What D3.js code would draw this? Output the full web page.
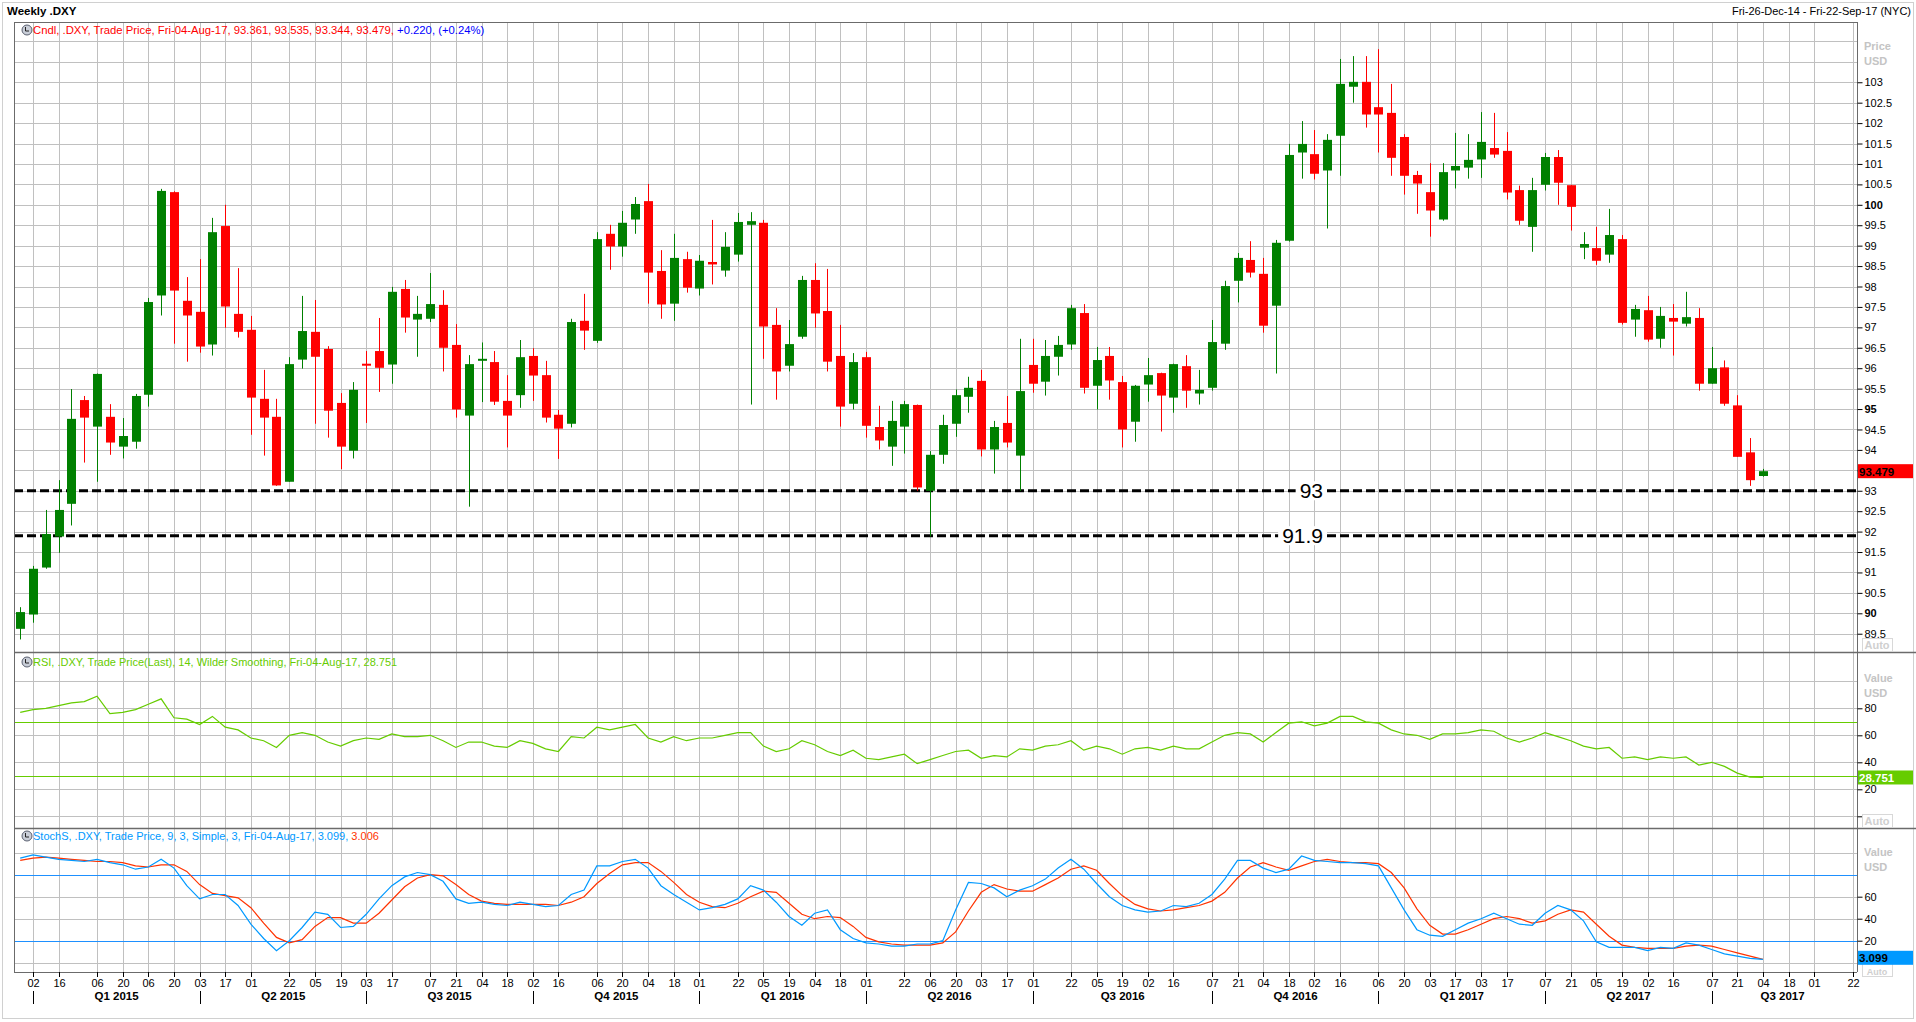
<!DOCTYPE html>
<html><head><meta charset="utf-8">
<script src="https://cdn.jsdelivr.net/npm/d3@7"></script>
<style>
body{margin:0;background:#fff;}
svg{display:block;}
text{font-family:"Liberation Sans",Arial,sans-serif;}
</style>
</head><body>
<svg id="c" width="1916" height="1022"></svg>
<script>
// ---------------- DATA ----------------
const firstWeek = "2014-12-26", lastWeek = "2017-08-04", axisEnd = "2017-09-22";
const opens = [89.62,89.97,91.12,91.88,92.68,95.22,94.57,94.81,94.08,94.20,95.35,97.78,100.31,97.65,97.38,96.58,99.48,97.33,96.94,95.25,94.81,93.22,96.21,96.89,96.47,95.15,93.98,96.11,96.42,96.09,97.94,97.19,97.21,97.55,96.57,94.84,96.19,96.15,95.20,95.34,96.30,95.83,94.86,94.64,97.16,96.67,99.29,98.98,99.64,100.09,98.38,97.58,98.67,97.95,98.60,98.39,98.78,99.51,99.56,97.06,96.06,96.77,98.16,97.40,96.30,95.13,96.27,94.56,94.08,94.57,95.10,93.00,93.88,94.64,95.30,95.69,94.01,94.66,93.86,96.08,95.67,96.28,96.58,97.35,95.57,96.30,95.66,94.69,95.60,95.88,95.28,96.05,95.38,95.52,96.60,98.14,98.65,98.31,97.53,99.12,101.28,101.24,100.84,101.69,102.89,103.01,102.39,102.25,101.66,100.73,100.31,99.64,100.84,100.91,101.11,101.39,101.32,100.36,99.46,100.49,101.17,100.48,98.95,98.94,98.78,99.16,97.19,97.42,96.72,97.23,97.09,97.23,95.62,96.02,95.09,93.94,93.361];
const highs = [90.15,91.16,92.53,93.26,95.49,95.32,95.87,95.12,94.78,95.37,97.72,100.39,100.33,98.23,98.67,99.68,100.00,98.45,97.28,95.96,95.25,96.27,97.77,97.67,96.54,95.39,95.66,96.42,97.23,97.99,98.16,97.77,98.33,97.91,97.08,96.32,96.63,96.42,95.83,96.69,96.49,96.18,94.98,97.21,97.82,99.33,99.51,99.85,100.19,100.51,98.89,99.29,98.85,98.77,99.63,99.33,99.80,99.82,99.63,97.47,97.18,98.26,98.57,98.43,97.06,96.37,96.40,95.08,95.20,95.20,95.11,93.97,94.86,95.48,95.79,95.96,94.71,95.32,96.72,96.72,96.69,96.79,97.55,97.57,96.52,96.52,95.81,95.59,96.25,95.89,96.11,96.32,95.96,97.18,98.14,98.82,99.11,98.70,99.14,101.49,102.05,101.83,101.73,103.57,103.64,103.64,103.81,102.96,101.73,100.83,101.02,101.02,101.76,101.73,102.27,102.25,101.78,100.47,100.66,101.27,101.34,100.49,99.33,99.46,99.90,99.26,97.55,97.77,97.50,97.57,97.87,97.47,96.52,96.19,95.34,94.29,93.535];
const lows = [89.36,89.77,91.09,91.48,92.15,93.69,93.22,93.88,93.79,94.03,95.06,97.29,96.60,96.16,96.38,96.31,96.99,96.75,94.37,93.86,93.12,93.22,95.99,94.64,94.30,93.53,93.79,94.66,95.42,95.62,96.87,96.28,97.13,95.92,94.79,92.61,95.17,95.10,94.06,95.03,95.20,94.67,93.78,94.55,96.45,96.62,98.41,98.73,99.29,97.58,97.21,97.16,97.85,97.78,98.05,98.24,98.61,95.11,96.23,95.23,95.92,96.72,96.99,95.92,94.57,94.99,94.30,94.01,93.61,93.91,93.00,91.88,93.66,94.32,94.91,93.84,93.42,94.06,93.00,95.40,95.33,95.82,96.45,95.38,94.99,95.23,94.06,94.20,95.18,94.45,94.91,95.03,95.11,95.45,96.45,97.61,98.22,96.87,95.87,99.10,100.64,100.62,99.42,100.71,102.50,101.89,101.28,100.71,100.25,99.78,99.22,99.61,100.40,100.64,100.66,101.15,100.13,99.51,98.85,100.35,100.00,99.37,98.67,98.53,98.58,97.07,96.77,96.65,96.50,96.31,97.02,95.45,95.62,95.08,93.83,93.12,93.344];
const closes = [90.03,91.09,91.94,92.53,94.76,94.79,95.86,94.18,94.34,95.32,97.62,100.34,97.90,97.29,96.53,99.33,97.51,96.89,95.28,94.79,93.13,96.10,96.91,96.28,94.96,94.08,95.47,96.10,96.01,97.87,97.24,97.33,97.57,96.50,94.99,96.10,96.23,95.18,94.84,96.27,95.82,94.79,94.52,97.13,96.92,99.16,98.98,99.56,100.02,98.34,97.56,98.70,97.97,98.63,98.54,98.97,99.58,99.60,97.02,95.92,96.59,98.16,97.34,96.16,95.06,96.15,94.59,94.23,94.71,95.12,93.08,93.88,94.61,95.34,95.52,94.01,94.56,94.18,95.44,95.62,96.30,96.57,97.47,95.52,96.20,95.70,94.50,95.57,95.83,95.33,96.10,95.45,95.47,96.64,98.01,98.70,98.34,97.04,99.07,101.22,101.49,100.76,101.59,102.96,103.01,102.21,102.21,101.15,100.71,100.52,99.86,100.80,100.95,101.10,101.54,101.23,100.30,99.61,100.36,101.17,100.54,99.95,99.04,98.63,99.26,97.11,97.45,96.70,97.28,97.14,97.25,95.62,96.00,95.13,93.83,93.259,93.479];
const rsi = [77,79,80,82,84,85,89,76,77,79,83,87,73,72,68,74,66,64,58,56,51,60,62,60,55,52,56,58,57,61,59,59,60,56,51,55,55,52,51,56,54,50,48,59,58,66,64,66,68,58,55,59,56,58,58,60,62,62,52,48,50,56,53,48,45,49,43,42,44,46,39,42,45,48,49,43,45,44,50,49,52,53,56,49,52,50,46,50,51,49,52,50,50,55,60,62,61,55,62,69,70,67,69,74,74,70,69,64,61,60,57,61,61,62,64,63,58,55,58,62,59,56,52,50,51,43,44,42,44,43,44,38,40,37,32,29,28.751];
const stochK = [95,98,96,94,93,92,94,91,89,85,87,94,86,70,58,62,62,52,35,22,11,20,32,46,44,32,33,44,58,70,78,82,80,74,58,54,55,53,52,55,53,51,52,62,66,88,88,92,94,86,70,62,55,48,50,53,58,70,66,55,42,34,45,48,30,22,18,17,15,15,17,17,20,48,73,72,68,60,66,70,76,86,94,85,72,60,52,48,46,47,52,51,54,62,76,93,93,86,82,85,97,93,92,91,91,90,88,68,48,30,25,24,30,36,40,45,40,35,34,45,52,48,38,19,14,14,14,11,14,13,18,16,12,8,6,4,3.099];
const stochD = [93,95,96,95,94,93,92,92,91,88,87,89,89,83,71,63,61,59,50,36,23,18,21,33,41,41,36,36,45,57,69,77,80,79,71,62,56,54,53,53,53,53,52,55,60,72,81,89,91,91,83,73,62,55,51,50,54,60,65,64,54,44,40,42,41,33,23,19,17,16,16,16,18,28,47,64,71,67,65,65,71,77,85,88,84,72,61,53,49,47,48,50,52,56,64,77,87,91,87,84,88,92,94,92,91,91,90,82,68,49,34,26,26,30,35,40,42,40,36,38,44,48,46,35,24,16,14,13,13,13,15,16,15,12,9,6,3.006];
const supportLevels = [93, 91.9];
const priceTicks = [89.5,90,90.5,91,91.5,92,92.5,93,93.5,94,94.5,95,95.5,96,96.5,97,97.5,98,98.5,99,99.5,100,100.5,101,101.5,102,102.5,103];
const priceGrid = [89.5,90,90.5,91,91.5,92,92.5,93,93.5,94,94.5,95,95.5,96,96.5,97,97.5,98,98.5,99,99.5,100,100.5,101,101.5,102,102.5,103,103.5,104];
const rsiTicks = [80,60,40,20];
const rsiGrid = [100,80,60,40,20,0];
const rsiLevels = [70,30];
const stochTicks = [60,40,20];
const stochGrid = [100,80,60,40,20,0];
const stochLevels = [80,20];
const tickDates = ["2015-01-02","2015-01-16","2015-02-06","2015-02-20","2015-03-06","2015-03-20","2015-04-03","2015-04-17","2015-05-01","2015-05-22","2015-06-05","2015-06-19","2015-07-03","2015-07-17","2015-08-07","2015-08-21","2015-09-04","2015-09-18","2015-10-02","2015-10-16","2015-11-06","2015-11-20","2015-12-04","2015-12-18","2016-01-01","2016-01-22","2016-02-05","2016-02-19","2016-03-04","2016-03-18","2016-04-01","2016-04-22","2016-05-06","2016-05-20","2016-06-03","2016-06-17","2016-07-01","2016-07-22","2016-08-05","2016-08-19","2016-09-02","2016-09-16","2016-10-07","2016-10-21","2016-11-04","2016-11-18","2016-12-02","2016-12-16","2017-01-06","2017-01-20","2017-02-03","2017-02-17","2017-03-03","2017-03-17","2017-04-07","2017-04-21","2017-05-05","2017-05-19","2017-06-02","2017-06-16","2017-07-07","2017-07-21","2017-08-04","2017-08-18","2017-09-01","2017-09-22"];
const quarterStarts = ["2015-01-02","2015-04-03","2015-07-03","2015-10-02","2016-01-01","2016-04-01","2016-07-01","2016-10-07","2017-01-06","2017-04-07","2017-07-07","2017-09-22"];
const quarterLabels = ["Q1 2015","Q2 2015","Q3 2015","Q4 2015","Q1 2016","Q2 2016","Q3 2016","Q4 2016","Q1 2017","Q2 2017","Q3 2017"];

// ---------------- LAYOUT ----------------
const plotL = 14, plotR = 1857;
const P = {top:22, bot:652}, R = {top:652, bot:828}, S = {top:828, bot:972};
const parse = d3.utcParse("%Y-%m-%d");
const weeks = d3.utcFriday.range(parse(firstWeek), d3.utcDay.offset(parse(lastWeek), 1));
const data = weeks.map((d,i)=>({d, o:opens[i], h:highs[i], l:lows[i], c:closes[i], rsi:rsi[i], k:stochK[i], dd:stochD[i]}));

const x = d3.scaleUtc().domain([parse(firstWeek), parse(axisEnd)]).range([20.2, 1852.6]);
const y = d3.scaleLinear().domain([100, 90]).range([204.8, 613.3]);
const yR = d3.scaleLinear().domain([80, 20]).range([708.3, 789.3]);
const yS = d3.scaleLinear().domain([60, 20]).range([896.7, 940.7]);

const svg = d3.select("#c");
const gridCol = "#c0c0c0", frameCol = "#6b6b6b";

svg.append("rect").attr("x",2.5).attr("y",2.5).attr("width",1911).attr("height",1016).attr("fill","none").attr("stroke","#d0d0d0");

const defs = svg.append("defs");
[["cp",P],["cr",R],["cs",S]].forEach(([id,p])=>{
  defs.append("clipPath").attr("id",id).append("rect").attr("x",plotL).attr("y",p.top).attr("width",plotR-plotL).attr("height",p.bot-p.top);
});

const vg = svg.append("g");
tickDates.forEach(t=>{
  const xx = Math.round(x(parse(t)))+0.5;
  vg.append("line").attr("x1",xx).attr("x2",xx).attr("y1",P.top).attr("y2",S.bot).attr("stroke",gridCol);
});
function hgrid(vals, sc, p){
  const g = svg.append("g");
  vals.forEach(v=>{
    const yy = Math.round(sc(v))+0.5;
    if(yy>p.top && yy<p.bot) g.append("line").attr("x1",plotL).attr("x2",plotR).attr("y1",yy).attr("y2",yy).attr("stroke",gridCol);
  });
}
hgrid(priceGrid, y, P); hgrid(rsiGrid, yR, R); hgrid(stochGrid, yS, S);

// ---------------- PRICE ----------------
const gp = svg.append("g").attr("clip-path","url(#cp)");
supportLevels.forEach(v=>{
  gp.append("line").attr("x1",plotL).attr("x2",plotR).attr("y1",y(v)).attr("y2",y(v))
    .attr("stroke","#000").attr("stroke-width",3).attr("stroke-dasharray","9,4");
});
const bw = 9;
const cg = gp.append("g");
data.forEach(d=>{
  const up = d.c >= d.o;
  const col = up ? "#008000" : "#ff0000";
  const cx = Math.round(x(d.d));
  cg.append("line").attr("x1",cx+0.5).attr("x2",cx+0.5).attr("y1",y(d.h)).attr("y2",y(d.l)).attr("stroke",col).attr("stroke-width",1);
  const top = y(Math.max(d.o,d.c)), bot = y(Math.min(d.o,d.c));
  cg.append("rect").attr("x",cx-4).attr("y",top).attr("width",bw).attr("height",Math.max(2,bot-top)).attr("fill",col);
});
supportLevels.forEach(v=>{
  const t = gp.append("text").attr("x",1323).attr("y",y(v)).attr("text-anchor","end").attr("dominant-baseline","central")
    .attr("font-size",21).attr("fill","#000").text(String(v));
  const bb = t.node().getBBox();
  gp.insert("rect", "text").attr("x",bb.x-4).attr("y",bb.y+2).attr("width",bb.width+8).attr("height",bb.height-4).attr("fill","#fff");
});

// ---------------- RSI ----------------
const gr = svg.append("g").attr("clip-path","url(#cr)");
rsiLevels.forEach(v=>{
  gr.append("line").attr("x1",plotL).attr("x2",plotR).attr("y1",Math.round(yR(v))+0.5).attr("y2",Math.round(yR(v))+0.5).attr("stroke","#66cc00");
});
gr.append("path").datum(data).attr("fill","none").attr("stroke","#66cc00").attr("stroke-width",1.2)
  .attr("d", d3.line().x(d=>x(d.d)).y(d=>yR(d.rsi)));

// ---------------- STOCH ----------------
const gs = svg.append("g").attr("clip-path","url(#cs)");
stochLevels.forEach(v=>{
  gs.append("line").attr("x1",plotL).attr("x2",plotR).attr("y1",Math.round(yS(v))+0.5).attr("y2",Math.round(yS(v))+0.5).attr("stroke","#1e90ff");
});
gs.append("path").datum(data).attr("fill","none").attr("stroke","#ff3300").attr("stroke-width",1.2)
  .attr("d", d3.line().x(d=>x(d.d)).y(d=>yS(d.dd)));
gs.append("path").datum(data).attr("fill","none").attr("stroke","#0099ff").attr("stroke-width",1.2)
  .attr("d", d3.line().x(d=>x(d.d)).y(d=>yS(d.k)));

// ---------------- FRAMES ----------------
const fr = svg.append("g").attr("stroke",frameCol).attr("fill","none");
fr.append("line").attr("x1",plotL+0.5).attr("x2",plotL+0.5).attr("y1",P.top).attr("y2",S.bot);
fr.append("line").attr("x1",plotR+0.5).attr("x2",plotR+0.5).attr("y1",P.top).attr("y2",S.bot);
fr.append("line").attr("x1",plotL).attr("x2",plotR).attr("y1",P.top+0.5).attr("y2",P.top+0.5);
fr.append("line").attr("x1",plotL).attr("x2",1916).attr("y1",P.bot+0.5).attr("y2",P.bot+0.5).attr("stroke-width",1.5);
fr.append("line").attr("x1",plotL).attr("x2",1916).attr("y1",R.bot+0.5).attr("y2",R.bot+0.5).attr("stroke-width",1.5);
fr.append("line").attr("x1",plotL).attr("x2",plotR).attr("y1",S.bot+0.5).attr("y2",S.bot+0.5);

// ---------------- AXES ----------------
const lastClose = closes[closes.length-1];
const ax = svg.append("g").attr("transform",`translate(${plotR+0.5},0)`)
  .call(d3.axisRight(y).tickValues(priceTicks).tickSize(5).tickPadding(2)
    .tickFormat(v => Math.abs(y(v)-y(lastClose))<9 ? "" : String(v)));
ax.select(".domain").remove();
ax.selectAll("text").attr("font-size",11).attr("fill","#000").attr("font-weight",d=> d%5===0 ? "bold":"normal");
ax.selectAll("line").attr("stroke","#000");

const axr = svg.append("g").attr("transform",`translate(${plotR+0.5},0)`)
  .call(d3.axisRight(yR).tickValues(rsiTicks.concat([0])).tickSize(5).tickPadding(2).tickFormat(d=>d===0?"":d));
axr.select(".domain").remove();
axr.selectAll("text").attr("font-size",11).attr("fill","#000");
axr.selectAll("line").attr("stroke","#000");

const axs = svg.append("g").attr("transform",`translate(${plotR+0.5},0)`)
  .call(d3.axisRight(yS).tickValues(stochTicks).tickSize(5).tickPadding(2));
axs.select(".domain").remove();
axs.selectAll("text").attr("font-size",11).attr("fill","#000");
axs.selectAll("line").attr("stroke","#000");

function unitLabel(t1, t2, yy){
  svg.append("text").attr("x",1864).attr("y",yy).attr("font-size",11).attr("font-weight","bold").attr("fill","#c4c4c4").text(t1);
  svg.append("text").attr("x",1864).attr("y",yy+15).attr("font-size",11).attr("font-weight","bold").attr("fill","#c4c4c4").text(t2);
}
unitLabel("Price","USD",50);
unitLabel("Value","USD",682);
unitLabel("Value","USD",856);
function autoBox(yy, fs){
  svg.append("rect").attr("x",1862.5).attr("y",yy-6.5).attr("width",30).attr("height",13).attr("fill","#fff").attr("stroke","#d8d8d8");
  svg.append("text").attr("x",1877).attr("y",yy+4).attr("text-anchor","middle").attr("font-size",fs||11).attr("font-weight","bold").attr("fill","#cfcfcf").text("Auto");
}
autoBox(645); autoBox(821);

function valBox(yy, bg, fg, txt){
  svg.append("rect").attr("x",1858).attr("y",yy-7).attr("width",55).attr("height",14).attr("fill",bg);
  svg.append("text").attr("x",1859).attr("y",yy+4.5).attr("font-size",11.5).attr("font-weight","bold").attr("fill",fg).text(txt);
}
// stoch "Auto" peeks out below its value box
svg.append("rect").attr("x",1862.5).attr("y",963.5).attr("width",30).attr("height",13).attr("fill","#fff").attr("stroke","#d8d8d8");
svg.append("text").attr("x",1877).attr("y",975).attr("text-anchor","middle").attr("font-size",9).attr("font-weight","bold").attr("fill","#cfcfcf").text("Auto");
valBox(y(lastClose), "#ff0000", "#000", "93.479");
valBox(yR(rsi[rsi.length-1]), "#66cc00", "#fff", "28.751");
valBox(yS(stochK[stochK.length-1])-1.5, "#0099ff", "#000", "3.099");

// x axis
const fmtD = d3.utcFormat("%d");
const xa = svg.append("g");
tickDates.forEach(t=>{
  const xx = Math.round(x(parse(t)))+0.5;
  xa.append("line").attr("x1",xx).attr("x2",xx).attr("y1",S.bot).attr("y2",S.bot+5).attr("stroke","#000");
  xa.append("text").attr("x",xx).attr("y",987).attr("text-anchor","middle").attr("font-size",11).attr("fill","#000").text(fmtD(parse(t)));
});
quarterStarts.forEach((q,i)=>{
  const xx = Math.round(x(parse(q)))+0.5;
  if(i<quarterStarts.length-1){
    xa.append("line").attr("x1",xx).attr("x2",xx).attr("y1",991).attr("y2",1004).attr("stroke","#000");
    const nx = x(parse(quarterStarts[i+1]));
    xa.append("text").attr("x",(xx+nx)/2).attr("y",1000).attr("text-anchor","middle").attr("font-size",11.5).attr("font-weight","bold").attr("fill","#000").text(quarterLabels[i]);
  }
});

// ---------------- HEADERS ----------------
svg.append("text").attr("x",7).attr("y",15).attr("font-size",11.5).attr("font-weight","bold").attr("fill","#000").text("Weekly .DXY");
svg.append("text").attr("x",1911).attr("y",15).attr("text-anchor","end").attr("font-size",11).attr("fill","#000").text("Fri-26-Dec-14 - Fri-22-Sep-17 (NYC)");

function icon(cx, cy){
  svg.append("circle").attr("cx",cx).attr("cy",cy).attr("r",5).attr("fill","#c9ced8").attr("stroke","#5a6070").attr("stroke-width",1);
  svg.append("path").attr("d",`M${cx-1.5},${cy-3}V${cy+1}H${cx+2}`).attr("stroke","#222").attr("fill","none").attr("stroke-width",1);
}
icon(27,30);
const h1 = svg.append("text").attr("x",33).attr("y",34).attr("font-size",11.3);
h1.append("tspan").attr("fill","#ff0000").text("Cndl, .DXY, Trade Price, Fri-04-Aug-17, 93.361, 93.535, 93.344, 93.479, ");
h1.append("tspan").attr("fill","#0000ff").text("+0.220, (+0.24%)");

icon(27,662);
svg.append("text").attr("x",33).attr("y",666).attr("font-size",11).attr("fill","#66cc00")
  .text("RSI, .DXY, Trade Price(Last),  14, Wilder Smoothing, Fri-04-Aug-17, 28.751");

icon(27,836);
const h3 = svg.append("text").attr("x",33).attr("y",840).attr("font-size",11);
h3.append("tspan").attr("fill","#0099ff").text("StochS, .DXY, Trade Price,  9, 3, Simple, 3, Fri-04-Aug-17, 3.099, ");
h3.append("tspan").attr("fill","#ff3300").text("3.006");
</script>
</body></html>
